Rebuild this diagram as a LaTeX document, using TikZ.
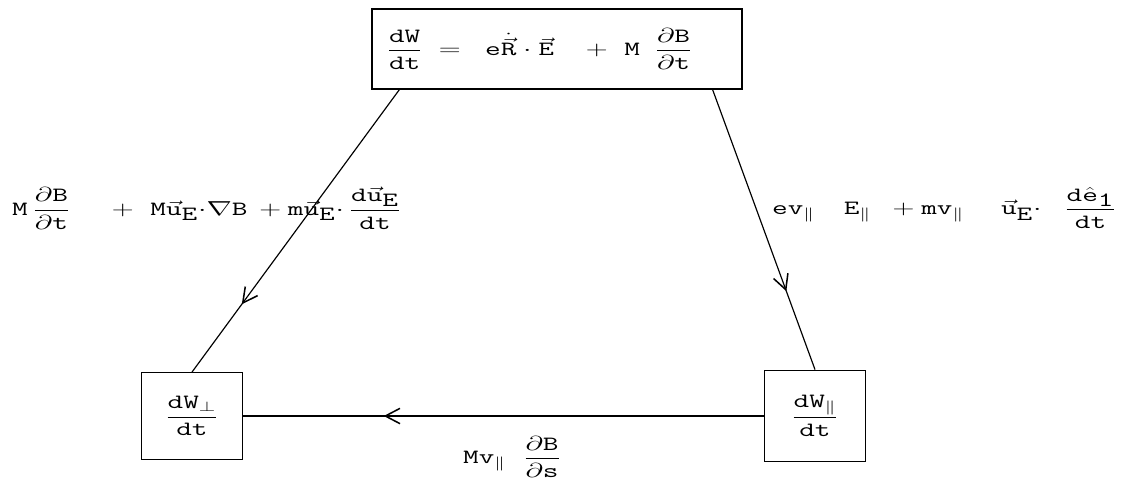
\documentclass[tikz,border=0pt]{standalone}
\usepackage{amsmath,amssymb,graphicx}
\usetikzlibrary{arrows.meta,decorations.markings,calc}
\newcommand{\tm}[1]{\mathtt{#1}}
\newcommand{\sbE}{_{\textstyle\tm{E}}}
\newcommand{\wide}[1]{\scalebox{1.5}[1]{$\displaystyle #1$}}
\tikzset{
  >={Straight Barb[length=4.4mm,width=4.6mm]},
  eqbox/.style={draw, line width=1pt, align=center, inner sep=0pt,
    font=\fontsize{18}{21}\selectfont},
  lbl/.style={font=\fontsize{18}{21}\selectfont, inner sep=0pt, anchor=west},
  flow/.style={draw, line width=1pt, postaction={decorate},
    decoration={markings, mark=at position #1 with {\arrow[line width=1.3pt]{>}}}},
}
\begin{document}
\begin{tikzpicture}[x=0.03cm, y=-0.03cm]
  \useasboundingbox (0,0) rectangle (1123,498);
  % energy boxes
  \node[eqbox, align=left, text width=10.2cm, inner xsep=0.45cm, minimum height=2.4cm] (total) at (557,49)
    {\wide{\dfrac{\tm{dW}}{\tm{dt}}\hspace{0.16cm}=\hspace{0.32cm}\tm{e}\dot{\vec{\tm{R}}}\cdot\vec{\tm{E}}\hspace{0.5cm}+\hspace{0.2cm}\tm{M}\hspace{0.3cm}\dfrac{\partial\tm{B}}{\partial\tm{t}}}};
  \node[eqbox, minimum width=3.03cm, minimum height=2.6cm] (wperp) at (192,416)
    {\wide{\dfrac{\tm{dW}_{\perp}}{\tm{dt}}}};
  \node[eqbox, minimum width=3.03cm, minimum height=2.75cm] (wpar) at (815,416)
    {\wide{\dfrac{\tm{dW}_{\|}}{\tm{dt}}}};
  % transfers
  \draw[flow=0.76] ([xshift=0.84cm]total.south west) -- (wperp.north);
  \draw[flow=0.72] ([xshift=-0.9cm]total.south east) -- (wpar.north);
  \draw[flow=0.73] (wpar.west) -- (wperp.east);
  % rates
  \node[lbl] (lperp) at (12,208)
    {\wide{\tm{M}\hspace{0.1cm}\dfrac{\partial\tm{B}}{\partial\tm{t}}\hspace{0.7cm}+\hspace{0.2cm}\tm{M}\vec{\tm{u}}\sbE{\cdot}\nabla\tm{B}\hspace{0.1cm}+\tm{m}\vec{\tm{u}}\sbE{\cdot}\hspace{0.1cm}\dfrac{\tm{d}\vec{\tm{u}}\sbE}{\tm{dt}}}};
  \node[lbl] (lpar) at (772,208)
    {\wide{\tm{ev}_{\|}\hspace{0.58cm}\tm{E}_{\|}\hspace{0.3cm}+\tm{mv}_{\|}\hspace{0.74cm}\vec{\tm{u}}\sbE{\cdot}\hspace{0.46cm}\dfrac{\tm{d}\hat{\tm{e}}_{\textstyle\tm{1}}}{\tm{dt}}}};
  \node[lbl] (lcross) at (463,457)
    {\wide{\tm{Mv}_{\|}\hspace{0.35cm}\dfrac{\partial\tm{B}}{\partial\tm{s}}}};
\end{tikzpicture}
\end{document}
